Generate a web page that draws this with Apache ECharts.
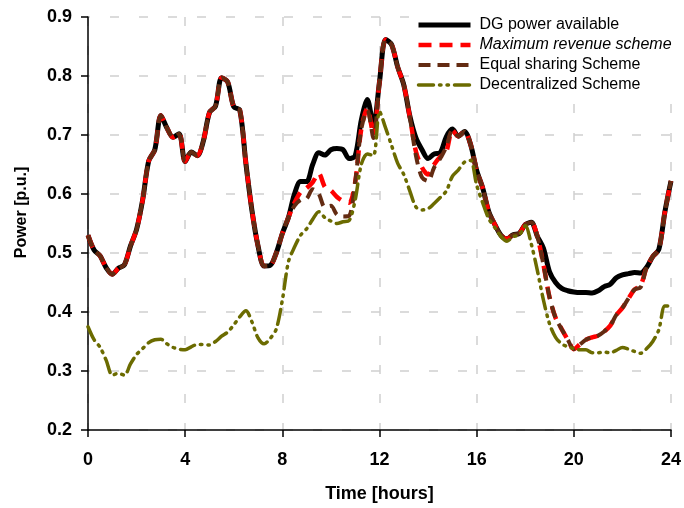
<!DOCTYPE html>
<html><head><meta charset="utf-8">
<script src="https://cdn.jsdelivr.net/npm/echarts@6/dist/echarts.min.js"></script>
<style>html,body{margin:0;padding:0;background:#fff}#c{width:684px;height:508px}</style>
</head><body><div id="c"></div>
<script>
const hours = [0,0.25,0.5,0.75,1,1.25,1.5,1.75,2,2.25,2.5,2.75,3,3.25,3.5,3.75,4,4.25,4.5,4.75,5,5.25,5.5,5.75,6,6.25,6.5,6.75,7,7.25,7.5,7.75,8,8.25,8.5,8.75,9,9.25,9.5,9.75,10,10.25,10.5,10.75,11,11.25,11.5,11.75,12,12.25,12.5,12.75,13,13.25,13.5,13.75,14,14.25,14.5,14.75,15,15.25,15.5,15.75,16,16.25,16.5,16.75,17,17.25,17.5,17.75,18,18.25,18.5,18.75,19,19.25,19.5,19.75,20,20.25,20.5,20.75,21,21.25,21.5,21.75,22,22.25,22.5,22.75,23,23.25,23.5,23.75,24];

const dgAvailable = [
0.530,0.505,0.495,0.475,
0.464,0.474,0.480,0.512,
0.540,0.590,0.656,0.675,
0.733,0.712,0.696,0.702,
0.655,0.671,0.665,0.690,
0.738,0.749,0.797,0.790,
0.748,0.742,0.652,0.572,
0.512,0.478,0.479,0.500,
0.533,0.560,0.600,0.621,
0.621,0.650,0.670,0.666,
0.675,0.677,0.675,0.660,
0.665,0.725,0.760,0.716,
0.790,0.862,0.853,0.815,
0.785,0.732,0.695,0.675,
0.660,0.668,0.670,0.697,
0.710,0.698,0.706,0.684,
0.640,0.610,0.570,0.548,
0.530,0.524,0.531,0.533,
0.548,0.552,0.528,0.508,
0.468,0.450,0.440,0.436,
0.434,0.433,0.433,0.432,
0.436,0.443,0.447,0.458,
0.463,0.465,0.467,0.466,
0.476,0.494,0.506,0.570,
0.622];

const maxRevenue = [
0.530,0.505,0.495,0.475,
0.464,0.474,0.480,0.512,
0.540,0.590,0.656,0.675,
0.733,0.712,0.696,0.702,
0.655,0.671,0.665,0.690,
0.738,0.749,0.797,0.790,
0.748,0.742,0.652,0.572,
0.512,0.478,0.479,0.500,
0.533,0.560,0.585,0.603,
0.610,0.620,0.635,0.612,
0.606,0.595,0.588,0.585,
0.620,0.710,0.745,0.700,
0.790,0.862,0.853,0.815,
0.785,0.730,0.672,0.645,
0.633,0.650,0.663,0.672,
0.708,0.698,0.706,0.684,
0.640,0.610,0.570,0.548,
0.530,0.524,0.531,0.533,
0.548,0.552,0.528,0.480,
0.425,0.390,0.371,0.353,
0.337,0.345,0.353,0.357,
0.360,0.367,0.377,0.395,
0.407,0.423,0.438,0.445,
0.476,0.494,0.506,0.570,
0.622];

const equalSharing = [
0.530,0.505,0.495,0.475,
0.464,0.474,0.480,0.512,
0.540,0.590,0.656,0.675,
0.733,0.712,0.696,0.702,
0.655,0.671,0.665,0.690,
0.738,0.749,0.797,0.790,
0.748,0.742,0.652,0.572,
0.512,0.478,0.479,0.500,
0.533,0.560,0.580,0.590,
0.592,0.608,0.600,0.578,
0.580,0.565,0.562,0.563,
0.620,0.710,0.742,0.695,
0.790,0.862,0.853,0.815,
0.785,0.730,0.665,0.628,
0.622,0.645,0.660,0.680,
0.708,0.698,0.706,0.684,
0.640,0.610,0.570,0.548,
0.530,0.524,0.531,0.533,
0.548,0.552,0.528,0.480,
0.425,0.390,0.371,0.353,
0.337,0.345,0.353,0.357,
0.360,0.367,0.377,0.395,
0.407,0.423,0.438,0.442,
0.476,0.494,0.506,0.570,
0.622];

const decentralized = [
0.375,0.353,0.340,0.318,
0.293,0.296,0.293,0.312,
0.328,0.338,0.348,0.353,
0.354,0.346,0.340,0.337,
0.336,0.341,0.345,0.345,
0.344,0.350,0.359,0.366,
0.378,0.392,0.402,0.383,
0.356,0.346,0.355,0.371,
0.420,0.485,0.510,0.530,
0.541,0.557,0.570,0.560,
0.554,0.550,0.553,0.555,
0.590,0.650,0.668,0.665,
0.740,0.712,0.682,0.652,
0.633,0.605,0.578,0.573,
0.575,0.584,0.594,0.605,
0.630,0.641,0.654,0.657,
0.615,0.585,0.558,0.543,
0.528,0.520,0.528,0.530,
0.546,0.515,0.470,0.420,
0.380,0.357,0.346,0.341,
0.338,0.336,0.336,0.331,
0.331,0.332,0.331,0.335,
0.340,0.337,0.333,0.330,
0.338,0.350,0.370,0.410,
0.410];

const seriesNames = ['DG power available','Maximum revenue scheme','Equal sharing Scheme','Decentralized Scheme'];
const xTicks = {min:0, max:24, interval:4};
const yTicks = {min:0.2, max:0.9, interval:0.1};

const FONT = 'Liberation Sans, Arial, sans-serif';
function pairs(arr){ return hours.map((h,i)=>[h, arr[i]]); }

const chart = echarts.init(document.getElementById('c'), null, {renderer:'canvas'});
chart.setOption({
  animation:false,
  backgroundColor:'#fff',
  grid:{left:88, right:10, top:17, bottom:78},
  legend:{
    orient:'vertical', left:409, top:15,
    itemWidth:52, itemHeight:12, itemGap:4,
    backgroundColor:'#fff', padding:[2,6,2,7],
    itemStyle:{opacity:0},
    textStyle:{fontFamily:FONT, fontSize:16, color:'#000', padding:[0,0,0,4]},
    data:[
      {name:seriesNames[0], lineStyle:{width:5}},
      {name:seriesNames[1], lineStyle:{width:4.5}, textStyle:{fontStyle:'italic'}},
      {name:seriesNames[2], lineStyle:{width:4}},
      {name:seriesNames[3], lineStyle:{width:3.5}}
    ]
  },
  xAxis:{
    type:'value', min:xTicks.min, max:xTicks.max, interval:xTicks.interval,
    name:'Time [hours]', nameLocation:'middle', nameGap:55,
    nameTextStyle:{fontFamily:FONT, fontSize:18, fontWeight:'bold', color:'#000'},
    axisLine:{lineStyle:{color:'#000', width:1.5}},
    axisTick:{show:true, length:7, lineStyle:{color:'#000', width:1.5}},
    axisLabel:{fontFamily:FONT, fontSize:18, fontWeight:'bold', color:'#000', margin:21},
    splitLine:{show:true, lineStyle:{color:'#cfcfcf', width:1.5, type:[9,20]}}
  },
  yAxis:{
    type:'value', min:yTicks.min, max:yTicks.max, interval:yTicks.interval,
    name:'Power [p.u.]', nameLocation:'middle', nameGap:58, nameRotate:90,
    nameTextStyle:{fontFamily:FONT, fontSize:16, fontWeight:'bold', color:'#000', padding:[0,0,0,22]},
    axisLine:{show:true, lineStyle:{color:'#000', width:1.5}},
    axisTick:{show:true, length:7, lineStyle:{color:'#000', width:1.5}},
    axisLabel:{fontFamily:FONT, fontSize:18, fontWeight:'bold', color:'#000', margin:16,
      formatter:v=>v.toFixed(1)},
    splitLine:{show:true, lineStyle:{color:'#cfcfcf', width:1.5, type:[9,20], dashOffset:7}}
  },
  series:[
    {name:seriesNames[0], type:'line', data:pairs(dgAvailable), showSymbol:false, symbol:'none', smooth:0.3,
      lineStyle:{color:'#000', width:5}, itemStyle:{color:'#000'}},
    {name:seriesNames[1], type:'line', data:pairs(maxRevenue), showSymbol:false, symbol:'none', smooth:0.3,
      lineStyle:{color:'#ff0000', width:4.5, type:[13,8]}, itemStyle:{color:'#ff0000'}},
    {name:seriesNames[2], type:'line', data:pairs(equalSharing), showSymbol:false, symbol:'none', smooth:0.3,
      lineStyle:{color:'#632b12', width:4, type:[12,7]}, itemStyle:{color:'#632b12'}},
    {name:seriesNames[3], type:'line', data:pairs(decentralized), showSymbol:false, symbol:'none', smooth:0.3,
      lineStyle:{color:'#6b6b00', width:3.5, type:[15,6,1.5,6,1.5,6], cap:'round'}, itemStyle:{color:'#6b6b00'}}
  ]
});
</script></body></html>
